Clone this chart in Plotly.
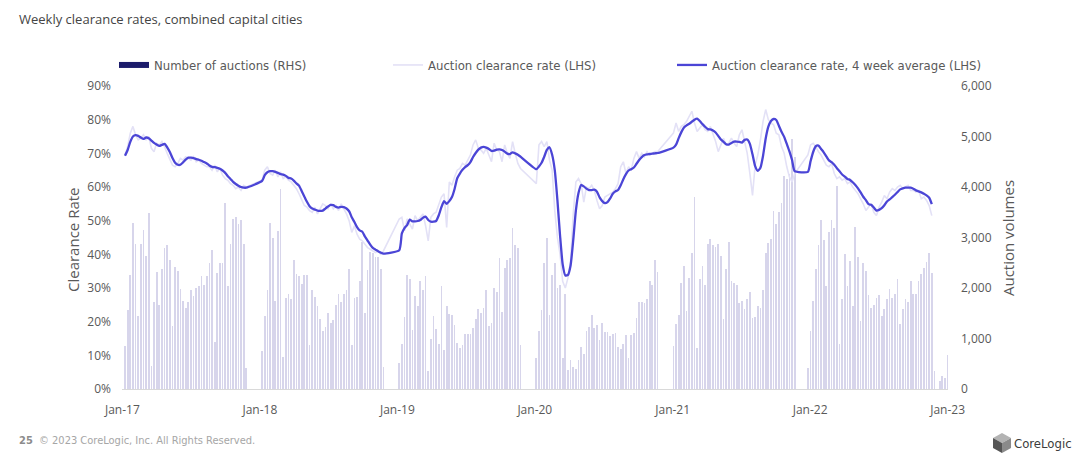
import plotly.graph_objects as go
import pandas as pd

# weekly auction results, combined capital cities (week index starts 8 Jan 2017)
weeks = pd.date_range("2017-01-08", periods=313, freq="7D")
N5 = [None] * 5
N4 = [None] * 4

# number of auctions (RHS)
auctions_2017 = [860, 1560, 2260, 3280, 2880, 1450, 2880, 3150, 2630, 3490,
                 460, 1730, 2320, 1660, 2380, 2790, 2850, 2550, 1250, 2410,
                 2340, 1980, 1740, 1600, 1720, 1960, 1840, 2010, 2030, 2240,
                 2050, 2240, 2490, 2750, 940, 2290, 2490, 2490, 3690, 2030,
                 2880, 3370, 3410, 3270, 3350, 2870, 410] + N5
auctions_2018 = [750, 1450, 1960, 3280, 3000, 1740, 3120, 3960, 640, 1810,
                 1880, 1780, 2550, 2280, 2240, 2070, 2260, 2260, 870, 1970,
                 1830, 1640, 1390, 1150, 1230, 1510, 1300, 1370, 1660, 1880,
                 1730, 1880, 1960, 2380, 870, 1800, 1830, 2130, 2920, 1510,
                 2360, 2720, 2690, 2620, 2610, 2380, 440] + N5
auctions_2019 = [510, 900, 1420, 2260, 2180, 1170, 1850, 1640, 2140, 1960,
                 2240, 360, 990, 1450, 1190, 900, 2030, 770, 1640, 1480,
                 1470, 1270, 920, 820, 870, 1090, 1080, 1090, 1200, 1390,
                 1580, 1500, 1610, 1960, 1250, 1300, 2010, 1930, 2590, 1530,
                 2390, 2550, 2590, 3180, 2860, 2790, 880] + N5
auctions_2020 = [610, 1140, 1560, 2490, 3000, 1470, 2260, 2490, 2000, 2050,
                 610, 1890, 380, 570, 440, 400, 570, 840, 690, 1150,
                 1230, 1470, 1200, 1270, 970, 1300, 1120, 1120, 1040, 1080,
                 1100, 840, 790, 900, 1060, 620, 1060, 1100, 1410, 1720,
                 1720, 1700, 1780, 2140, 2060, 2550, 2310] + N5
auctions_2021 = [860, 1280, 1470, 2090, 2440, 1540, 2190, 2690, 3810, 820,
                 2180, 2440, 2060, 2870, 2980, 2850, 2820, 2880, 2630, 1390,
                 2380, 2920, 2140, 2090, 2060, 1700, 1740, 1580, 1780, 1930,
                 1400, 1430, 1650, 1600, 1960, 2690, 2900, 2980, 3520, 3260,
                 3510, 3690, 4220, 4150, 4250, 4950, 4600] + N4
auctions_2022 = [410, 1140, 1740, 2380, 2850, 3350, 2950, 2030, 3100, 3350,
                 3180, 4010, 900, 1780, 2670, 2040, 2530, 1640, 3200, 2610,
                 1350, 2500, 2340, 1860, 1600, 1660, 1800, 1870, 1450, 1580,
                 1780, 1980, 1800, 1880, 2180, 1290, 1580, 1780, 1720, 2140,
                 1890, 1880, 2140, 2270, 2390, 2510, 2690, 2290, 360, None,
                 160, 260, 210, 670]

# auction clearance rate (LHS), weekly
rate_2017 = [69.5, 72.0, 76.0, 78.0, 75.5, 74.0, 74.5, 75.5, 74.0, 75.0,
             71.5, 70.5, 73.0, 72.5, 73.5, 72.0, 70.0, 68.0, 66.5, 66.0,
             67.0, 68.5, 68.0, 69.0, 68.5, 68.0, 69.0, 67.5, 68.0, 67.0,
             66.5, 66.0, 66.0, 65.0, 66.5, 64.5, 65.5, 63.5, 62.5, 62.0,
             61.0, 60.5, 59.5, 60.0, 59.0, 60.5, 60.0] + N5
rate_2018 = [62.0, 65.0, 66.0, 64.0, 63.5, 65.0, 63.0, 64.5, 62.5, 63.0,
             62.0, 61.5, 60.5, 59.5, 58.0, 56.0, 54.5, 54.0, 53.0, 52.5,
             54.0, 52.0, 53.5, 55.0, 54.5, 53.5, 55.0, 53.5, 54.5, 53.0,
             55.0, 53.5, 52.0, 50.0, 46.5, 48.5, 46.0, 44.5, 44.0, 43.0,
             42.0, 41.5, 41.0, 40.5, 41.0, 40.0, 41.0] + N5
rate_2019 = [50.5, 51.0, 47.0, 50.5, 49.0, 47.5, 51.5, 50.0, 51.0, 52.0,
             48.5, 44.0, 51.0, 52.0, 52.5, 54.5, 57.0, 58.0, 48.0, 61.5,
             60.5, 63.0, 65.0, 65.5, 67.0, 66.5, 68.0, 69.5, 72.5, 74.0,
             71.5, 71.0, 70.0, 71.5, 69.5, 67.5, 73.0, 71.0, 70.5, 67.5,
             72.5, 70.0, 68.5, 73.5, 70.0, 67.0, 65.5] + N5
rate_2020 = [61.0, 72.5, 73.5, 72.0, 73.5, 68.0, 65.0, 53.0, 45.0, 40.0,
             32.0, 30.0, 33.0, 38.0, 52.0, 61.5, 62.5, 61.0, 55.5, 60.0,
             59.5, 60.5, 59.0, 56.0, 53.5, 54.5, 57.0, 57.5, 58.0, 58.5,
             59.5, 61.0, 66.0, 67.5, 64.0, 66.0, 65.0, 68.5, 70.5, 68.5,
             70.0, 69.0, 70.5, 69.5, 70.0, 70.5, 70.5] + N5
rate_2021 = [76.0, 79.0, 76.5, 78.0, 78.5, 79.5, 81.0, 82.5, 79.0, 76.5,
             77.5, 78.5, 77.0, 76.5, 78.0, 76.0, 73.5, 70.5, 72.5, 74.5,
             72.5, 73.0, 74.5, 73.0, 72.0, 75.5, 77.0, 73.0, 70.0, 64.0,
             57.5, 66.5, 69.5, 74.0, 79.5, 83.0, 80.0, 79.0, 78.5, 76.0,
             75.5, 72.0, 70.0, 66.0, 63.0, 61.5, 64.0] + N4
rate_2022 = [69.5, 72.5, 73.0, 72.0, 70.5, 69.5, 68.0, 66.5, 66.0, 67.0,
             64.0, 62.5, 63.0, 62.0, 62.5, 61.0, 61.5, 60.0, 59.0, 58.0,
             56.5, 55.0, 53.0, 54.0, 55.0, 52.5, 51.5, 54.0, 55.5, 57.5,
             56.5, 58.5, 59.5, 59.0, 60.0, 60.5, 59.5, 60.0, 60.5, 59.0,
             59.0, 58.5, 59.0, 56.5, 57.0, 56.0, 54.5, 51.5]

# auction clearance rate, 4 week average (LHS)
avg_2017 = [69.3, 71.0, 73.4, 75.0, 75.4, 75.2, 74.7, 74.3, 74.7, 74.5,
            73.8, 73.1, 72.6, 72.2, 72.5, 72.8, 71.8, 70.4, 68.6, 67.2,
            66.6, 66.6, 67.3, 68.1, 68.7, 68.7, 68.6, 68.3, 68.1, 67.8,
            67.4, 67.0, 66.4, 66.0, 65.9, 65.7, 65.4, 64.9, 64.2, 63.2,
            62.4, 61.5, 60.9, 60.4, 60.0, 59.8, 59.8] + N5
avg_2018 = [61.8, 63.5, 64.4, 64.7, 64.7, 64.5, 64.2, 63.8, 63.7, 63.3,
            62.7, 62.5, 61.9, 61.1, 60.4, 58.8, 57.2, 55.6, 54.3, 53.6,
            53.3, 53.0, 52.9, 53.0, 53.6, 54.2, 54.7, 54.6, 54.1, 53.9,
            54.1, 54.0, 53.6, 52.8, 51.0, 49.6, 48.1, 47.1, 46.7, 45.3,
            44.1, 42.9, 41.9, 41.4, 40.9, 40.5, 40.2] + N5
avg_2019 = [41.2, 46.2, 47.8, 48.7, 50.3, 49.8, 49.8, 49.9, 50.2, 50.9,
            51.2, 50.2, 49.7, 49.7, 49.9, 51.6, 54.0, 55.8, 55.0, 55.8,
            57.0, 59.4, 62.6, 64.0, 65.1, 65.9, 66.5, 67.4, 68.9, 70.1,
            71.1, 71.7, 71.9, 71.7, 71.3, 70.7, 70.8, 71.1, 71.2, 71.0,
            70.5, 69.9, 69.8, 70.3, 70.0, 69.6, 69.0] + N5
avg_2020 = [65.3, 66.1, 67.2, 69.0, 71.0, 71.8, 69.6, 65.0, 56.1, 45.6,
            37.0, 33.7, 33.9, 36.7, 44.2, 53.0, 58.2, 60.6, 60.2, 59.5,
            59.1, 59.1, 59.2, 58.6, 56.9, 55.8, 55.2, 55.5, 56.6, 58.0,
            58.7, 59.1, 60.5, 62.3, 63.8, 64.9, 65.3, 65.8, 66.9, 68.0,
            68.9, 69.5, 69.7, 69.8, 69.9, 70.0, 70.1] + N5
avg_2021 = [71.7, 72.6, 74.5, 76.3, 77.7, 78.3, 78.8, 79.4, 80.0, 80.3,
            79.6, 78.7, 77.9, 77.2, 77.1, 76.8, 76.2, 75.2, 74.1, 73.4,
            72.7, 72.6, 73.1, 73.5, 73.5, 73.4, 73.2, 74.0, 74.1, 72.8,
            69.7, 66.2, 64.8, 65.7, 69.3, 74.4, 77.9, 79.6, 80.2, 79.9,
            78.2, 76.4, 74.9, 72.8, 70.6, 68.0, 64.7] + N4
avg_2022 = [64.5, 67.6, 70.4, 72.1, 72.3, 71.3, 70.3, 69.1, 67.9, 67.4,
            66.6, 65.6, 64.7, 63.7, 63.1, 62.4, 62.1, 61.4, 60.6, 59.6,
            58.4, 57.1, 56.1, 54.9, 54.7, 53.9, 53.0, 53.2, 53.7, 54.6,
            55.7, 56.3, 57.0, 57.7, 58.5, 59.3, 59.6, 59.8, 59.8, 59.8,
            59.5, 59.0, 58.7, 58.4, 58.0, 57.5, 56.8, 54.9]

auctions = auctions_2017 + auctions_2018 + auctions_2019 + auctions_2020 + auctions_2021 + auctions_2022
rate = rate_2017 + rate_2018 + rate_2019 + rate_2020 + rate_2021 + rate_2022
rate_avg = avg_2017 + avg_2018 + avg_2019 + avg_2020 + avg_2021 + avg_2022
assert len(auctions) == len(weeks), len(auctions)
assert len(rate) == len(rate_avg) == 307, (len(rate), len(rate_avg))

GREY = "#595959"
NARROW = "Liberation Sans Narrow, DejaVu Sans Condensed, sans-serif"
MAIN = "Open Sans, sans-serif"

# the page puts the figure 8px in from the top-left, so work in page pixels minus 8
OFF = 8
W, H = 1080 - OFF, 468 - OFF
# plot area in page pixels: x 122..948, y 86..389
L, R, T, B = 122, 948, 86, 389


def px(x, y):
    return (x - L) / (R - L), (B - y) / (B - T)


fig = go.Figure()

fig.add_trace(go.Bar(x=weeks, y=auctions, yaxis="y", marker_color="#D7D5EB",
                     marker_line_width=0, width=2.0 * 86400000,
                     showlegend=False, hoverinfo="skip"))
fig.add_trace(go.Scatter(x=weeks[:len(rate)], y=rate, yaxis="y2", mode="lines",
                         line=dict(color="#E3E1F6", width=1.6), connectgaps=True,
                         name="Auction clearance rate (LHS)", legend="legend2"))
fig.add_trace(go.Scatter(x=weeks[:len(rate_avg)], y=rate_avg, yaxis="y2", mode="lines",
                         line=dict(color="#4B45D6", width=2.3, shape="spline", smoothing=0.5),
                         connectgaps=True,
                         name="Auction clearance rate, 4 week average (LHS)", legend="legend3"))
# legend swatch for the bars (drawn dark in the original legend)
fig.add_trace(go.Scatter(x=[None], y=[None], yaxis="y", mode="lines",
                         line=dict(color="#1C1C6B", width=6),
                         name="Number of auctions (RHS)", legend="legend"))

leg = dict(orientation="h", yanchor="middle", bgcolor="rgba(0,0,0,0)",
           font=dict(family=NARROW, size=13, color=GREY), itemwidth=30)
lx1, ly = px(114, 65)
lx2, _ = px(388, 65)
lx3, _ = px(672, 65)

fig.update_layout(
    width=W, height=H,
    margin=dict(l=L - OFF, r=W - (R - OFF), t=T - OFF, b=H - (B - OFF), autoexpand=False),
    paper_bgcolor="white", plot_bgcolor="white",
    bargap=0,
    showlegend=True,
    legend=dict(leg, x=lx1, y=ly),
    legend2=dict(leg, x=lx2, y=ly),
    legend3=dict(leg, x=lx3, y=ly),
    xaxis=dict(type="date", range=["2016-12-31", "2023-01-02"],
               tickvals=["2017-01-01", "2018-01-01", "2019-01-01", "2020-01-01",
                         "2021-01-01", "2022-01-01", "2023-01-01"],
               tickformat="%b-%y", showgrid=False, zeroline=False,
               showline=True, linecolor="#D9D9D9", linewidth=1,
               ticks="", ticklabelstandoff=10,
               tickfont=dict(family=MAIN, size=12, color=GREY)),
    yaxis=dict(side="right", range=[0, 6000], dtick=1000, tickformat=",",
               showgrid=False, zeroline=False, showline=False, ticks="",
               ticklabelstandoff=12,
               tickfont=dict(family=MAIN, size=12, color=GREY)),
    yaxis2=dict(overlaying="y", side="left", range=[0, 90], dtick=10, ticksuffix="%",
                showgrid=False, zeroline=False, showline=False, ticks="",
                ticklabelstandoff=10,
                tickfont=dict(family=MAIN, size=12, color=GREY)),
)

tx, ty = px(17, 8)
fig.add_annotation(x=tx, y=ty, xref="paper", yref="paper", xanchor="left", yanchor="top",
                   text="Weekly clearance rates, combined capital cities", showarrow=False,
                   font=dict(family=MAIN, size=13, color="#444444"))
ax, ay = px(73, 240)
fig.add_annotation(x=ax, y=ay, xref="paper", yref="paper", textangle=-90, showarrow=False,
                   xanchor="center", yanchor="middle",
                   text="Clearance Rate", font=dict(family=MAIN, size=15, color=GREY))
ax, ay = px(1008, 238)
fig.add_annotation(x=ax, y=ay, xref="paper", yref="paper", textangle=-90, showarrow=False,
                   xanchor="center", yanchor="middle",
                   text="Auction volumes", font=dict(family=MAIN, size=15, color=GREY))

fx, fy = px(17, 440)
fig.add_annotation(x=fx, y=fy, xref="paper", yref="paper", xanchor="left", yanchor="middle",
                   text="<b>25</b>", showarrow=False,
                   font=dict(family=NARROW, size=11, color="#8C8C8C"))
fx, fy = px(37, 440)
fig.add_annotation(x=fx, y=fy, xref="paper", yref="paper", xanchor="left", yanchor="middle",
                   text="© 2023 CoreLogic, Inc. All Rights Reserved.", showarrow=False,
                   font=dict(family=NARROW, size=11, color="#A6A6A6"))
fx, fy = px(1012, 443)
fig.add_annotation(x=fx, y=fy, xref="paper", yref="paper", xanchor="left", yanchor="middle",
                   text="CoreLogic", showarrow=False,
                   font=dict(family=NARROW, size=13, color="#3C3C3C"))


# small cube logo
def path(points):
    parts = ["%.4f,%.4f" % px(x, y) for x, y in points]
    return "M" + " L".join(parts) + " Z"


cx, cy = 1002, 443
top, ur, lr = (cx, cy - 10), (cx + 9, cy - 5), (cx + 9, cy + 5)
bot, ll, ul = (cx, cy + 10), (cx - 9, cy + 5), (cx - 9, cy - 5)
for pts, col in [([top, ur, (cx, cy), ul], "#B3B3B3"),
                 ([ul, (cx, cy), bot, ll], "#555555"),
                 ([(cx, cy), ur, lr, bot], "#8A8A8A")]:
    fig.add_shape(type="path", path=path(pts), xref="paper", yref="paper",
                  fillcolor=col, line_width=0, layer="above")

fig.write_html("out.html")
